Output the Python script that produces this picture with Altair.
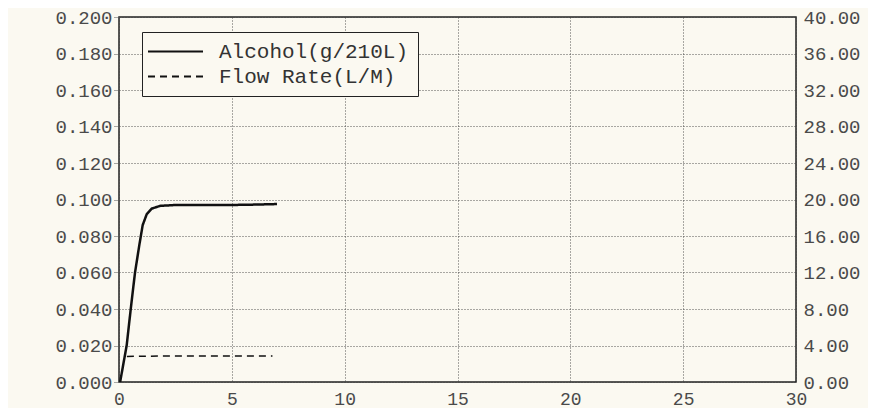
import altair as alt
import pandas as pd

# ---- data ----
alcohol_t = [0.05, 0.34, 0.52, 0.71, 0.90, 1.05, 1.23, 1.45, 1.82, 2.5, 3.5, 5.0, 6.0, 7.0]
alcohol_v = [0.000, 0.020, 0.040, 0.060, 0.075, 0.086, 0.092, 0.095, 0.0965, 0.097, 0.097, 0.097, 0.0972, 0.0975]

flow_t = [0.35, 1.0, 2.0, 3.0, 4.0, 5.0, 6.0, 6.8]
flow_v = [2.80, 2.82, 2.85, 2.85, 2.85, 2.85, 2.85, 2.85]

series_names = ["Alcohol(g/210L)", "Flow Rate(L/M)"]
x_ticks = [0, 5, 10, 15, 20, 25, 30]
left_ticks = [0.0, 0.02, 0.04, 0.06, 0.08, 0.10, 0.12, 0.14, 0.16, 0.18, 0.20]
right_ticks = [0, 4, 8, 12, 16, 20, 24, 28, 32, 36, 40]

alc = pd.DataFrame({"t": alcohol_t, "v": alcohol_v, "series": series_names[0]})
flo = pd.DataFrame({"t": flow_t, "v": flow_v, "series": series_names[1]})

FONT = "Liberation Mono"
BG = "#fbf9f1"

dash_scale = alt.Scale(domain=series_names, range=[[1, 0], [7, 5]])

x_enc = alt.X(
    "t:Q",
    scale=alt.Scale(domain=[0, 30], nice=False),
    axis=alt.Axis(values=x_ticks, title=None, format="d", labelFlush=False,
                  ticks=False, labelPadding=8, labelFontSize=18,
                  grid=True, gridDash=[1, 2], gridColor="#444", domain=False),
)

dash_enc = alt.StrokeDash(
    "series:N",
    scale=dash_scale,
    legend=alt.Legend(
        title=None, orient="none", legendX=23, legendY=15,
        symbolType="M-5,0H5", symbolSize=121, symbolStrokeWidth=2,
        symbolStrokeColor="#111", symbolOffset=14,
        labelFont=FONT, labelFontSize=21, labelColor="#333", labelOffset=33,
        labelLimit=400,
        padding=9, rowPadding=3, strokeColor="#222", fillColor=BG,
    ),
)

alcohol_line = alt.Chart(alc).mark_line(color="#111", strokeWidth=2.5).encode(
    x=x_enc,
    y=alt.Y(
        "v:Q",
        scale=alt.Scale(domain=[0, 0.2], nice=False),
        axis=alt.Axis(values=left_ticks, format=".3f", title=None, orient="left",
                      tickSize=6, tickDash=[1, 1], tickColor="#555", labelPadding=1,
                      labelFontSize=19, grid=True, gridDash=[1, 2], gridColor="#444",
                      domain=False),
    ),
    strokeDash=dash_enc,
)

flow_line = alt.Chart(flo).mark_line(color="#111", strokeWidth=1.5).encode(
    x=alt.X("t:Q", scale=alt.Scale(domain=[0, 30], nice=False)),
    y=alt.Y(
        "v:Q",
        scale=alt.Scale(domain=[0, 40], nice=False),
        axis=alt.Axis(values=right_ticks, format=".2f", title=None, orient="right",
                      ticks=False, labelPadding=7, labelFontSize=19, grid=False,
                      domain=False),
    ),
    strokeDash=dash_enc,
)

chart = (
    alt.layer(alcohol_line, flow_line)
    .resolve_scale(y="independent")
    .properties(
        width=677, height=365,
        autosize=alt.AutoSizeParams(type="none"),
        padding={"left": 111, "top": 9, "right": 72, "bottom": 26},
        background=BG,
    )
    .configure_view(stroke="#222", strokeWidth=1.5)
    .configure_axis(labelFont=FONT, labelColor="#4a4a4a", gridOpacity=0.9)
)

chart.save("out.html", embed_options={"renderer": "svg", "actions": False})
